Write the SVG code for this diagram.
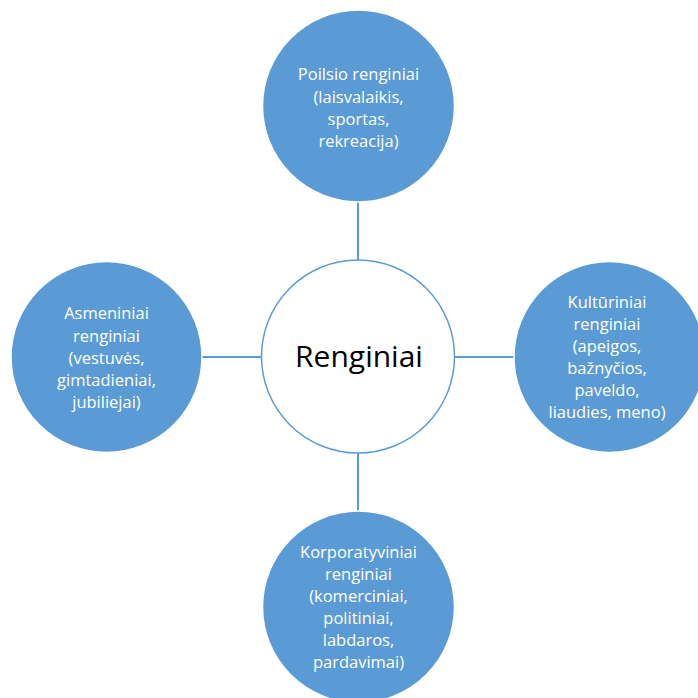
<svg xmlns="http://www.w3.org/2000/svg" width="698" height="698" viewBox="0 0 698 698">
<style>
.bg{fill:#ffffff}
.node{fill:#5B9BD5;stroke:#ffffff;stroke-width:1.5}
.center{fill:#ffffff;stroke:#5B9BD5;stroke-width:1.5}
.conn{stroke:#5B9BD5;stroke-width:2;fill:none}
.t{font-family:"Open Sans","Liberation Sans",sans-serif;font-size:16.5px;fill:#ffffff;text-anchor:middle}
.ct{font-family:"Open Sans","Liberation Sans",sans-serif;font-size:30px;fill:#000000;text-anchor:middle}
</style>
<rect class="bg" x="0" y="0" width="698" height="698"/>
<g id="connectors">
<line class="conn" x1="358" y1="202" x2="358" y2="260"/>
<line class="conn" x1="358" y1="453" x2="358" y2="511"/>
<line class="conn" x1="202" y1="357" x2="261" y2="357"/>
<line class="conn" x1="455" y1="357" x2="514" y2="357"/>
</g>
<g id="center">
<circle class="center" cx="358" cy="356.5" r="96.5"/>
<text class="ct" x="359" y="367">Renginiai</text>
</g>
<g id="top">
<circle class="node" cx="358.5" cy="106" r="96"/>
<text class="t"><tspan x="358.5" y="80">Poilsio renginiai</tspan><tspan x="358.5" y="103">(laisvalaikis,</tspan><tspan x="358.5" y="125">sportas,</tspan><tspan x="358.5" y="147">rekreacija)</tspan></text>
</g>
<g id="left">
<circle class="node" cx="106.5" cy="357" r="95.5"/>
<text class="t"><tspan x="106.5" y="319">Asmeniniai</tspan><tspan x="106.5" y="342">renginiai</tspan><tspan x="106.5" y="364">(vestuvės,</tspan><tspan x="106.5" y="386">gimtadieniai,</tspan><tspan x="106.5" y="408">jubiliejai)</tspan></text>
</g>
<g id="right">
<circle class="node" cx="609.5" cy="357" r="95.5"/>
<text class="t"><tspan x="607" y="308">Kultūriniai</tspan><tspan x="607" y="330">renginiai</tspan><tspan x="607" y="352">(apeigos,</tspan><tspan x="607" y="374">bažnyčios,</tspan><tspan x="607" y="396">paveldo,</tspan><tspan x="607" y="418">liaudies, meno)</tspan></text>
</g>
<g id="bottom">
<circle class="node" cx="358.5" cy="607" r="96"/>
<text class="t"><tspan x="358.5" y="558">Korporatyviniai</tspan><tspan x="358.5" y="580">renginiai</tspan><tspan x="358.5" y="602">(komerciniai,</tspan><tspan x="358.5" y="624">politiniai,</tspan><tspan x="358.5" y="646">labdaros,</tspan><tspan x="358.5" y="668">pardavimai)</tspan></text>
</g>
</svg>
